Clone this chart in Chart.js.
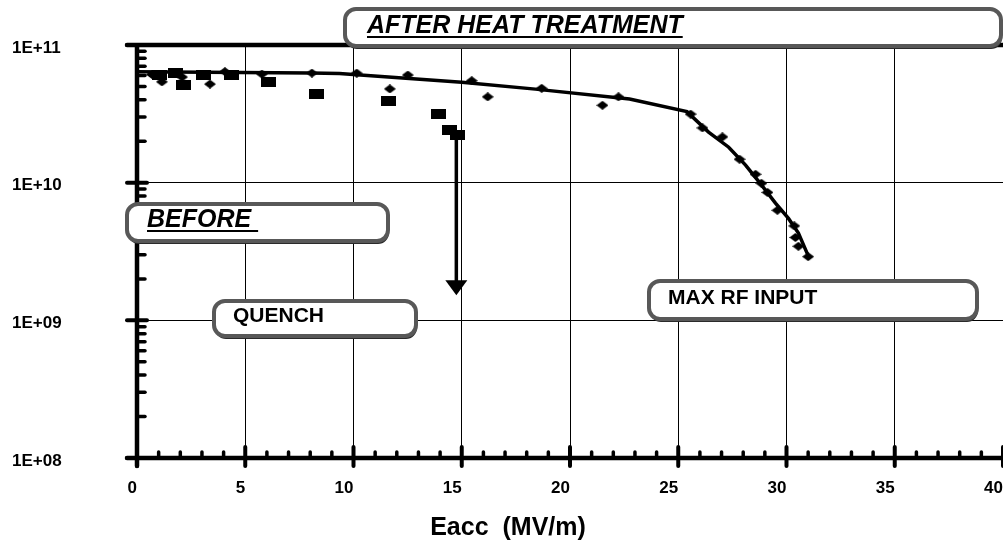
<!DOCTYPE html>
<html>
<head>
<meta charset="utf-8">
<title>Q0 vs Eacc</title>
<script src="https://cdn.jsdelivr.net/npm/chart.js@4.4.1/dist/chart.umd.min.js"></script>
<style>
    body { margin: 0; background: #fff; }
    canvas { display: block; }
</style>
</head>
<body>
<canvas id="qChart" width="1003" height="545"></canvas>
<script>
// Before heat treatment (squares)
const beforeEacc = [1.05, 1.8, 2.17, 3.05, 4.38, 6.09, 8.31, 11.63, 13.94, 14.45, 14.81];
const beforeQ = [6.05e10, 6.25e10, 5.1e10, 6.05e10, 6.05e10, 5.38e10, 4.4e10, 3.92e10, 3.15e10, 2.41e10, 2.22e10];

// After heat treatment (diamonds)
const afterEacc = [0.69, 1.15, 2.08, 3.37, 4.06, 5.77, 8.08, 10.15, 11.68, 12.51, 15.46, 16.2, 18.69, 21.5, 22.24,
    25.57, 26.12, 27.04, 27.83, 28.57, 28.84, 29.12, 29.58, 30.36, 30.41, 30.55, 31.0];
const afterQ = [6.1e10, 5.4e10, 5.85e10, 5.2e10, 6.4e10, 6.15e10, 6.25e10, 6.25e10, 4.8e10, 6.05e10, 5.5e10, 4.2e10, 4.85e10, 3.65e10, 4.2e10,
    3.15e10, 2.5e10, 2.15e10, 1.48e10, 1.15e10, 9.9e9, 8.5e9, 6.3e9, 4.85e9, 4.0e9, 3.45e9, 2.9e9];

// Trend line through the after data
const fitEacc = [0, 8, 9.35, 15.0, 18.4, 22.75, 25.4, 26.4, 27.33, 28.11, 28.85, 29.49, 30.09, 30.55, 31.0];
const fitQ = [6.4e10, 6.25e10, 6.22e10, 5.36e10, 4.78e10, 4.05e10, 3.28e10, 2.33e10, 1.81e10, 1.34e10, 9.6e9, 7.1e9, 5.5e9, 4.3e9, 2.95e9];

// Quench arrow
const quenchEacc = 14.75;
const quenchFrom = 2.2e10;
const quenchTo = 1.52e9;

// Axes
const xMin = 0, xMax = 40;
const yDecades = [1e8, 1e9, 1e10, 1e11];
const yTickLabels = ['1E+08', '1E+09', '1E+10', '1E+11'];

const FONT = '"Liberation Sans", Arial, sans-serif';

document.addEventListener('DOMContentLoaded', function() {
    const ctx = document.getElementById('qChart').getContext('2d');

    // log minor ticks 2..9 in each decade
    const yTickValues = [];
    for (let i = 0; i < yDecades.length - 1; i++) {
        for (let m = 1; m <= 9; m++) yTickValues.push(yDecades[i] * m);
    }
    yTickValues.push(yDecades[yDecades.length - 1]);

    const isDecade = v => yDecades.some(d => Math.abs(d - v) / d < 1e-6);

    function marker(w, h, shape) {
        const c = document.createElement('canvas');
        c.width = w;
        c.height = h;
        const g = c.getContext('2d');
        g.fillStyle = '#000';
        if (shape === 'square') {
            g.fillRect(0, 0, w, h);
        } else {
            g.beginPath();
            g.moveTo(w / 2, 0);
            g.lineTo(w, h / 2);
            g.lineTo(w / 2, h);
            g.lineTo(0, h / 2);
            g.closePath();
            g.fill();
        }
        return c;
    }

    const toPoints = (xs, ys) => xs.map((x, i) => ({ x: x, y: ys[i] }));

    function roundRect(c, x, y, w, h, r) {
        c.beginPath();
        c.moveTo(x + r, y);
        c.arcTo(x + w, y, x + w, y + h, r);
        c.arcTo(x + w, y + h, x, y + h, r);
        c.arcTo(x, y + h, x, y, r);
        c.arcTo(x, y, x + w, y, r);
        c.closePath();
    }

    function textBox(c, box) {
        c.save();
        roundRect(c, box.x + 1, box.y + 3, box.w, box.h, 11);
        c.fillStyle = '#2a2a2a';
        c.fill();
        roundRect(c, box.x, box.y, box.w, box.h, 11);
        c.fillStyle = '#fff';
        c.fill();
        c.lineWidth = 4;
        c.strokeStyle = '#585858';
        c.stroke();
        c.fillStyle = '#000';
        c.font = box.font;
        c.textBaseline = 'alphabetic';
        c.fillText(box.text, box.tx, box.ty);
        if (box.underline) {
            const w = c.measureText(box.text).width;
            c.fillRect(box.tx, box.ty + 3, w, 2);
        }
        c.restore();
    }

    const axesPlugin = {
        id: 'excelAxes',
        afterDatasetsDraw(chart) {
            const c = chart.ctx;
            const a = chart.chartArea;
            const x = chart.scales.x;
            const y = chart.scales.y;
            c.save();
            c.strokeStyle = '#000';
            c.lineCap = 'round';

            x.ticks.forEach(t => {
                const px = x.getPixelForValue(t.value);
                c.beginPath();
                if (t.value % 5 === 0) {
                    c.lineWidth = 4;
                    c.moveTo(px, a.bottom - 11);
                    c.lineTo(px, a.bottom + 8);
                } else {
                    c.lineWidth = 3.5;
                    c.moveTo(px, a.bottom);
                    c.lineTo(px, a.bottom - 6);
                }
                c.stroke();
            });

            y.ticks.forEach(t => {
                const py = y.getPixelForValue(t.value);
                c.beginPath();
                if (isDecade(t.value)) {
                    c.lineWidth = 4;
                    c.moveTo(a.left - 10, py);
                    c.lineTo(a.left + 10, py);
                } else {
                    c.lineWidth = 3.5;
                    c.moveTo(a.left, py);
                    c.lineTo(a.left + 8, py);
                }
                c.stroke();
            });

            c.lineWidth = 4.5;
            c.beginPath();
            c.moveTo(a.left - 10, a.top);
            c.lineTo(a.right, a.top);
            c.moveTo(a.left - 10, a.bottom);
            c.lineTo(a.right, a.bottom);
            c.moveTo(a.left, a.top);
            c.lineTo(a.left, a.bottom + 8);
            c.stroke();
            c.restore();
        },
        afterDraw(chart) {
            const c = chart.ctx;
            const x = chart.scales.x;
            const y = chart.scales.y;

            // quench arrow
            const ax = x.getPixelForValue(quenchEacc);
            const top = y.getPixelForValue(quenchFrom);
            const tip = y.getPixelForValue(quenchTo);
            c.save();
            c.strokeStyle = '#000';
            c.fillStyle = '#000';
            c.lineWidth = 3.5;
            c.beginPath();
            c.moveTo(ax, top);
            c.lineTo(ax, tip - 12);
            c.stroke();
            c.beginPath();
            c.moveTo(ax - 11, tip - 15);
            c.lineTo(ax + 11, tip - 15);
            c.lineTo(ax, tip);
            c.closePath();
            c.fill();
            c.restore();

            textBox(c, { x: 345, y: 9, w: 656, h: 37, text: 'AFTER HEAT TREATMENT', tx: 367, ty: 33,
                font: 'italic bold 25px ' + FONT, underline: true });
            textBox(c, { x: 127, y: 204, w: 261, h: 37, text: 'BEFORE ', tx: 147, ty: 227,
                font: 'italic bold 25px ' + FONT, underline: true });
            textBox(c, { x: 214, y: 301, w: 202, h: 35, text: 'QUENCH', tx: 233, ty: 322,
                font: 'bold 21px ' + FONT });
            textBox(c, { x: 649, y: 281, w: 328, h: 38, text: 'MAX RF INPUT', tx: 668, ty: 304,
                font: 'bold 21px ' + FONT });
        }
    };

    new Chart(ctx, {
        type: 'scatter',
        data: {
            datasets: [
                {
                    label: 'Before',
                    data: toPoints(beforeEacc, beforeQ),
                    pointStyle: marker(15, 10, 'square'),
                    pointRadius: 6
                },
                {
                    label: 'After',
                    data: toPoints(afterEacc, afterQ),
                    pointStyle: marker(12, 9, 'diamond'),
                    pointRadius: 5
                },
                {
                    label: 'Fit',
                    data: toPoints(fitEacc, fitQ),
                    showLine: true,
                    borderColor: '#000',
                    borderWidth: 3.5,
                    pointRadius: 0,
                    tension: 0
                }
            ]
        },
        options: {
            responsive: false,
            animation: false,
            layout: {
                autoPadding: false,
                padding: { left: 12, top: 45, right: -1, bottom: 0 }
            },
            plugins: {
                legend: { display: false },
                tooltip: { enabled: false },
                title: {
                    display: true,
                    position: 'bottom',
                    text: 'Eacc  (MV/m)',
                    color: '#000',
                    font: { family: FONT, size: 25, weight: 'bold' },
                    padding: { top: 0, bottom: 2 }
                }
            },
            scales: {
                x: {
                    type: 'linear',
                    min: xMin,
                    max: xMax,
                    afterFit: s => {
                        s.height = 55;
                        s.paddingLeft = 0;
                        s.paddingRight = 0;
                    },
                    border: { display: false },
                    grid: {
                        drawTicks: false,
                        lineWidth: 1,
                        color: c => (c.tick && c.tick.value % 5 === 0) ? '#000' : 'rgba(0,0,0,0)'
                    },
                    ticks: {
                        stepSize: 1,
                        autoSkip: false,
                        maxRotation: 0,
                        align: 'end',
                        padding: 20,
                        color: '#000',
                        font: { family: FONT, size: 17, weight: 'bold' },
                        callback: v => v % 5 === 0 ? String(v) : ''
                    }
                },
                y: {
                    type: 'logarithmic',
                    min: yDecades[0],
                    max: yDecades[yDecades.length - 1],
                    afterBuildTicks: s => { s.ticks = yTickValues.map(v => ({ value: v })); },
                    afterFit: s => {
                        s.width = 125;
                        s.paddingTop = 0;
                        s.paddingBottom = 0;
                    },
                    border: { display: false },
                    grid: {
                        drawTicks: false,
                        lineWidth: 1,
                        color: c => (c.tick && isDecade(c.tick.value)) ? '#000' : 'rgba(0,0,0,0)'
                    },
                    ticks: {
                        autoSkip: false,
                        crossAlign: 'far',
                        labelOffset: 3,
                        color: '#000',
                        font: { family: FONT, size: 17, weight: 'bold' },
                        callback: v => {
                            const i = yDecades.findIndex(d => Math.abs(d - v) / d < 1e-6);
                            return i >= 0 ? yTickLabels[i] : '';
                        }
                    }
                }
            }
        },
        plugins: [axesPlugin]
    });
});
</script>
</body>
</html>
